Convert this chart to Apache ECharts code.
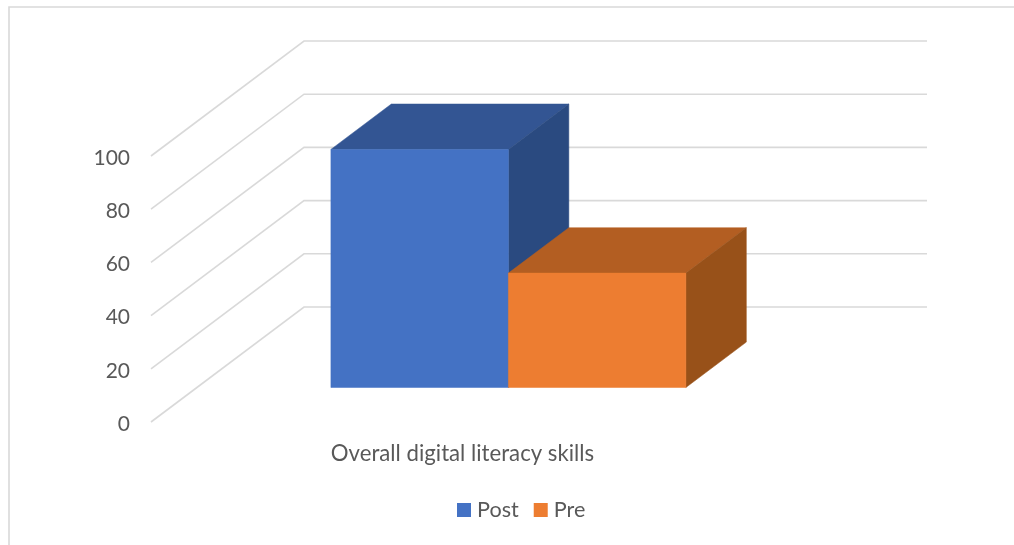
<!DOCTYPE html>
<html>
<head>
<meta charset="utf-8">
<style>
  html, body { margin: 0; padding: 0; background: #fff; overflow: hidden; }
  #chart { width: 1014px; height: 545px; }
</style>
</head>
<body>
<div id="chart"></div>
<script src="https://cdn.jsdelivr.net/npm/echarts@6/dist/echarts.min.js"></script>
<script>
const categories = ['Overall digital literacy skills']
const postValues = [89.5]
const preValues = [43]
const yTicks = [0, 20, 40, 60, 80, 100]

const fontName = 'Lato'
const textColor = '#595959'
const gridColor = '#d9d9d9'

// floor depth of the fake 3d box
const floorDx = 153
const floorDy = -115
// where the bars sit on the floor, and how deep they are
const barStart = 0.3
const barDepth = 0.395
const barWidth = 177.5

function facePath(points, fill) {
  return {
    type: 'polygon',
    shape: { points },
    style: { fill, stroke: fill, lineWidth: 0.5 },
  }
}

// index: 0 is left of the band center, 1 is right of it
function renderBar(index, colors) {
  return (params, api) => {
    const base = api.coord([api.value(0), 0])
    const top = api.coord([api.value(0), api.value(1)])
    const ox = floorDx * barStart
    const oy = floorDy * barStart
    const dx = floorDx * barDepth
    const dy = floorDy * barDepth
    const x0 = base[0] + ox + (index - 1) * barWidth
    const x1 = x0 + barWidth
    const yb = base[1] + oy
    const yt = top[1] + oy
    return {
      type: 'group',
      children: [
        facePath([[x0, yt], [x1, yt], [x1 + dx, yt + dy], [x0 + dx, yt + dy]], colors[1]),
        facePath([[x1, yt], [x1 + dx, yt + dy], [x1 + dx, yb + dy], [x1, yb]], colors[2]),
        facePath([[x0, yt], [x1, yt], [x1, yb], [x0, yb]], colors[0]),
      ],
    }
  }
}

function renderWall(params, api) {
  const sys = params.coordSys
  const p = api.coord([0, api.value(1)])
  const backX = sys.x + floorDx
  const backY = p[1] + floorDy
  return {
    type: 'polyline',
    shape: { points: [[sys.x, p[1]], [backX, backY], [backX + sys.width, backY]] },
    style: { fill: 'none', stroke: gridColor, lineWidth: 1.6 },
  }
}

const option = {
  animation: false,
  backgroundColor: '#fff',
  textStyle: { fontFamily: fontName },
  graphic: [
    {
      type: 'rect',
      shape: { x: 9, y: 7, width: 1100, height: 600 },
      style: { fill: 'none', stroke: gridColor, lineWidth: 1.6 },
      silent: true,
    },
  ],
  legend: {
    data: ['Post', 'Pre'],
    left: 457,
    top: 499,
    padding: 0,
    itemWidth: 14,
    itemHeight: 14,
    itemGap: 15,
    icon: 'rect',
    selectedMode: false,
    textStyle: { fontFamily: fontName, fontSize: 21.6, color: textColor, padding: [0, 0, 0, 1] },
  },
  grid: { left: 151, top: 156, width: 623, height: 266 },
  xAxis: {
    type: 'category',
    data: categories,
    axisLine: { show: false },
    axisTick: { show: false },
    axisLabel: { margin: 21, fontFamily: fontName, fontSize: 22.2, color: textColor },
  },
  yAxis: {
    type: 'value',
    min: 0,
    max: 100,
    interval: 20,
    axisLine: { show: false },
    axisTick: { show: false },
    splitLine: { show: false },
    axisLabel: {
      margin: 21,
      formatter: '{tick|{value}}',
      rich: {
        tick: { fontFamily: fontName, fontSize: 21, color: textColor, padding: [4, 0, 0, 0] },
      },
    },
  },
  series: [
    {
      type: 'custom',
      name: 'walls',
      silent: true,
      renderItem: renderWall,
      encode: { x: 0, y: 1 },
      data: yTicks.map((v) => [0, v]),
      z: 1,
    },
    {
      type: 'custom',
      name: 'Post',
      itemStyle: { color: '#4472c4' },
      renderItem: renderBar(0, ['#4472c4', '#335593', '#2a4a80']),
      encode: { x: 0, y: 1 },
      data: postValues.map((v, i) => [i, v]),
      z: 2,
    },
    {
      type: 'custom',
      name: 'Pre',
      itemStyle: { color: '#ed7d31' },
      renderItem: renderBar(1, ['#ed7d31', '#b35e22', '#985119']),
      encode: { x: 0, y: 1 },
      data: preValues.map((v, i) => [i, v]),
      z: 3,
    },
  ],
}

const myEcharts = echarts.init(document.getElementById('chart'))
myEcharts.setOption(option)
</script>
</body>
</html>
